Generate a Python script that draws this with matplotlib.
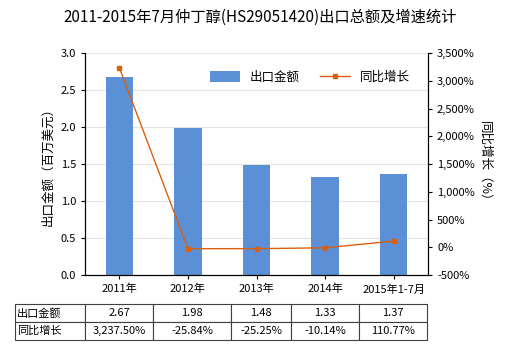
import matplotlib

matplotlib.use('Agg')
import matplotlib.pyplot as plt
import numpy as np

plt.rcParams['font.family'] = ['Noto Sans CJK SC', 'DejaVu Sans']

# data
years = ['2011年', '2012年', '2013年', '2014年', '2015年1-7月']
export_total = [2.67, 1.98, 1.48, 1.33, 1.37]
growth = [3237.50, -25.84, -25.25, -10.14, 110.77]
export_labels = ['2.67', '1.98', '1.48', '1.33', '1.37']
growth_labels = ['3,237.50%', '-25.84%', '-25.25%', '-10.14%', '110.77%']

bar_color = '#5b8fd6'
line_color = '#d9600f'

fig = plt.figure(figsize=(5.2, 3.5), dpi=100)
ax = fig.add_axes([85 / 520, 1 - 275 / 350, 343 / 520, 222 / 350])
x = np.arange(len(years))

ax.bar(x, export_total, width=0.4, color=bar_color, label='出口金额', zorder=2)
ax.set_ylim(0, 3.0)
ax.set_yticks(np.arange(0, 3.01, 0.5))
ax.set_yticklabels(['%.1f' % v for v in np.arange(0, 3.01, 0.5)], fontsize=8)
ax.set_xlim(-0.5, len(years) - 0.5)
ax.set_xticks(x)
ax.set_xticklabels(years, fontsize=8)
ax.grid(axis='y', color='#e4e4dc', linewidth=0.8, zorder=0)
ax.set_ylabel('出口金额（百万美元）', fontsize=9)
ax.spines['top'].set_visible(False)
ax.tick_params(length=3)

ax2 = ax.twinx()
ax2.plot(x, growth, color=line_color, marker='s', markersize=3, linewidth=1, label='同比增长')
ax2.set_ylim(-500, 3500)
ax2.set_yticks(np.arange(-500, 3501, 500))
ax2.set_yticklabels(['{:,}%'.format(v) for v in range(-500, 3501, 500)], fontsize=8)
ax2.set_ylabel('同比增长（%）', fontsize=9, rotation=-90, labelpad=12)
ax2.spines['top'].set_visible(False)
ax2.tick_params(length=3)

h1, l1 = ax.get_legend_handles_labels()
h2, l2 = ax2.get_legend_handles_labels()
ax.legend(h1 + h2, l1 + l2, loc='upper right', bbox_to_anchor=(0.98, 0.97), ncol=2,
          frameon=False, fontsize=9, handlelength=2.4, handleheight=0.9, columnspacing=1.6)

fig.suptitle('2011-2015年7月仲丁醇(HS29051420)出口总额及增速统计', fontsize=11, y=0.975)

# table under chart
tax = fig.add_axes([15 / 520, 1 - 340 / 350, 412 / 520, 36 / 350])
tax.axis('off')
col_px = [70, 68, 78, 60, 68, 68]
cells = [['出口金额'] + export_labels, ['同比增长'] + growth_labels]
tbl = tax.table(cellText=cells, colWidths=[c / sum(col_px) for c in col_px],
                bbox=[0, 0, 1, 1], cellLoc='center')
tbl.auto_set_font_size(False)
tbl.set_fontsize(8)
for (r, c), cell in tbl.get_celld().items():
    cell.set_edgecolor('#404040')
    cell.set_linewidth(0.8)
    if c == 0:
        cell.set_text_props(ha='left')
        cell.PAD = 0.03

fig.savefig('out.png', dpi=100)
